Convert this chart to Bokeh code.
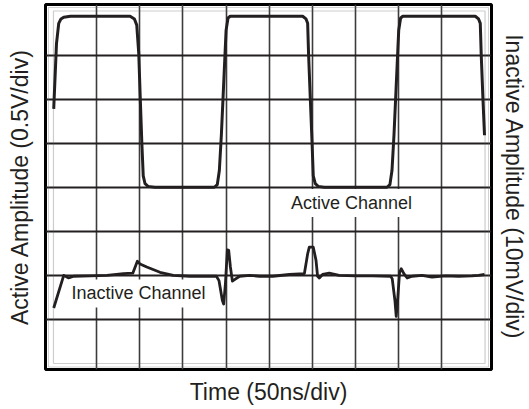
from bokeh.plotting import figure
from bokeh.models import Range1d, LinearAxis, FixedTicker, Label, BoxAnnotation
from bokeh.embed import file_html
from bokeh.resources import INLINE

# ---------------- data ----------------
# time in ns (50 ns/div, 10 div), active channel in V (0.5 V/div), inactive in mV (10 mV/div)
time_ticks = [50, 100, 150, 200, 250, 300, 350, 400, 450]
volt_ticks = [-1.5, -1.0, -0.5, 0.0, 0.5, 1.0, 1.5]

active_t = [0.3, 3.5, 6.1, 8.7, 11.9, 19.6, 88.8, 93.8, 96.5, 98.8, 100.6, 102.4, 104.0, 106.1, 109.6, 117.6,
            186.4, 189.8, 192.2, 194.5, 196.4, 198.7, 200.0, 202.2, 204.8, 209.5,
            288.7, 292.6, 294.5, 295.6, 297.6, 299.5, 301.0, 303.3, 306.8, 313.7,
            386.4, 389.8, 392.2, 394.5, 396.4, 398.7, 400.0, 402.2, 404.8, 409.5,
            488.7, 492.5, 494.5, 495.6, 497.6, 499.4]
active_v = [0.89, 1.63, 1.86, 1.91, 1.93, 1.94, 1.94, 1.91, 1.84, 1.52, 1.00, 0.50, 0.13, 0.04, 0.01, 0.00,
            0.00, 0.03, 0.19, 0.59, 1.00, 1.50, 1.78, 1.92, 1.94, 1.94,
            1.94, 1.91, 1.86, 1.50, 1.00, 0.53, 0.13, 0.04, 0.01, 0.00,
            0.00, 0.03, 0.19, 0.59, 1.00, 1.50, 1.78, 1.92, 1.94, 1.94,
            1.94, 1.91, 1.86, 1.50, 1.00, 0.59]

inactive_t = [0.3, 11.9, 17.6, 23.4, 42.7, 61.9, 81.1, 91.9, 97.2, 100.3, 108.1, 123.4, 138.8, 158.0, 177.3,
              188.8, 191.8, 195.7, 197.2, 199.2, 201.5, 203.0, 205.0, 207.3, 211.1, 215.7, 227.2, 238.8,
              254.1, 273.4, 290.7, 294.5, 296.4, 301.0, 304.2, 306.0, 308.0, 311.8, 319.5, 331.0, 350.3,
              369.4, 390.7, 392.5, 395.6, 397.1, 398.7, 401.0, 402.9, 406.0, 409.8, 415.6, 427.1, 438.6,
              454.1, 469.4, 484.8, 492.5, 499.4]
inactive_mv = [-7.4, 0.0, -0.6, -0.2, -0.1, 0.0, 0.4, 0.5, 3.2, 2.6, 1.9, 0.7, 0.0, -0.2, -0.2,
               -0.2, -1.2, -5.7, -6.5, -1.9, 5.8, 5.7, 1.9, -1.3, -0.8, -0.2, 0.0, -0.2,
               -0.2, 0.2, 0.4, 4.9, 6.4, 6.4, 3.4, -0.2, -0.6, 0.2, 0.5, 0.0, -0.1,
               -0.1, -0.2, -0.8, -5.7, -9.3, -5.7, 0.7, 1.5, 0.4, -0.6, -0.2, 0.0, -0.4,
               -0.1, -0.2, -0.1, 0.0, 0.2]

label_text = ["Active Channel", "Inactive Channel"]
label_t = [345.4, 98.6]
label_active_v = -0.18
label_inactive_mv = -4.1

x_title = "Time (50ns/div)"
y_left_title = "Active Amplitude (0.5V/div)"
y_right_title = "Inactive Amplitude (10mV/div)"

# ---------------- layout ----------------
W, H = 529, 409
BL, BR, BT, BB = 45, 36, 4, 40
frame_w = W - BL - BR
frame_h = H - BT - BB
gl, gr, gt, gb = 8.0, 6.5, 6.5, 6.0      # grid inset inside the frame (px)

t_lo, t_hi = 0, 500
v_lo, v_hi = -2.0, 2.0
mv_lo, mv_hi = -20.0, 60.0
ppx = (frame_w - gl - gr) / (t_hi - t_lo)
ppv = (frame_h - gt - gb) / (v_hi - v_lo)
ppm = (frame_h - gt - gb) / (mv_hi - mv_lo)

x_range = Range1d(t_lo - gl / ppx, t_hi + gr / ppx)
y_range = Range1d(v_lo - gb / ppv, v_hi + gt / ppv)

INK = "#231f20"
FONT = "Liberation Sans"

p = figure(width=W, height=H, x_range=x_range, y_range=y_range,
           output_backend="svg", toolbar_location=None,
           min_border_left=BL, min_border_right=BR, min_border_top=BT, min_border_bottom=BB,
           background_fill_color="white", border_fill_color="white")
p.extra_y_ranges = {"inactive": Range1d(mv_lo - gb / ppm, mv_hi + gt / ppm)}

p.outline_line_color = "black"
p.outline_line_width = 3

def style_axis(ax, standoff):
    ax.ticker = FixedTicker(ticks=[])
    ax.axis_line_color = None
    ax.major_tick_line_color = None
    ax.minor_tick_line_color = None
    ax.major_tick_out = 0
    ax.major_tick_in = 0
    ax.major_label_standoff = 0
    ax.major_label_text_font_size = "0px"
    ax.axis_label_text_font = FONT
    ax.axis_label_text_font_style = "normal"
    ax.axis_label_text_font_size = "23px"
    ax.axis_label_text_color = INK
    ax.axis_label_standoff = standoff

p.xaxis.axis_label = x_title
p.yaxis.axis_label = y_left_title
style_axis(p.xaxis[0], 9)
style_axis(p.yaxis[0], 13)

right = LinearAxis(y_range_name="inactive", axis_label=y_right_title)
style_axis(right, 9)
p.add_layout(right, "right")

# grid
p.xgrid.ticker = FixedTicker(ticks=time_ticks)
p.ygrid.ticker = FixedTicker(ticks=volt_ticks)
p.xgrid.grid_line_color = "#3c3c3c"
p.xgrid.grid_line_width = 1.6
p.ygrid.grid_line_color = INK
p.ygrid.grid_line_width = 2.2

# grid border and inner thin frame
p.add_layout(BoxAnnotation(left=t_lo, right=t_hi, bottom=v_lo, top=v_hi,
                           fill_alpha=0, line_color="#5a5a5a", line_width=1.2, level="underlay"))
p.add_layout(BoxAnnotation(left=x_range.start + 3 / ppx, right=x_range.end - 3 / ppx,
                           bottom=y_range.start + 2.5 / ppv, top=y_range.end - 3 / ppv,
                           fill_alpha=0, line_color="#6a6a6a", line_width=1, level="underlay"))

# traces
p.line(active_t, active_v, line_color=INK, line_width=3, line_join="round")
p.line(inactive_t, inactive_mv, y_range_name="inactive", line_color=INK, line_width=2.8, line_join="round")

# channel labels
p.add_layout(Label(x=label_t[0], y=label_active_v, text=label_text[0],
                   text_align="center", text_baseline="middle",
                   text_font=FONT, text_font_size="18px", text_color=INK,
                   background_fill_color="white", padding=4))
p.add_layout(Label(x=label_t[1], y=label_inactive_mv, y_range_name="inactive", text=label_text[1],
                   text_align="center", text_baseline="middle",
                   text_font=FONT, text_font_size="18px", text_color=INK,
                   background_fill_color="white", padding=4))

open("out.html", "w").write(file_html(p, INLINE))
